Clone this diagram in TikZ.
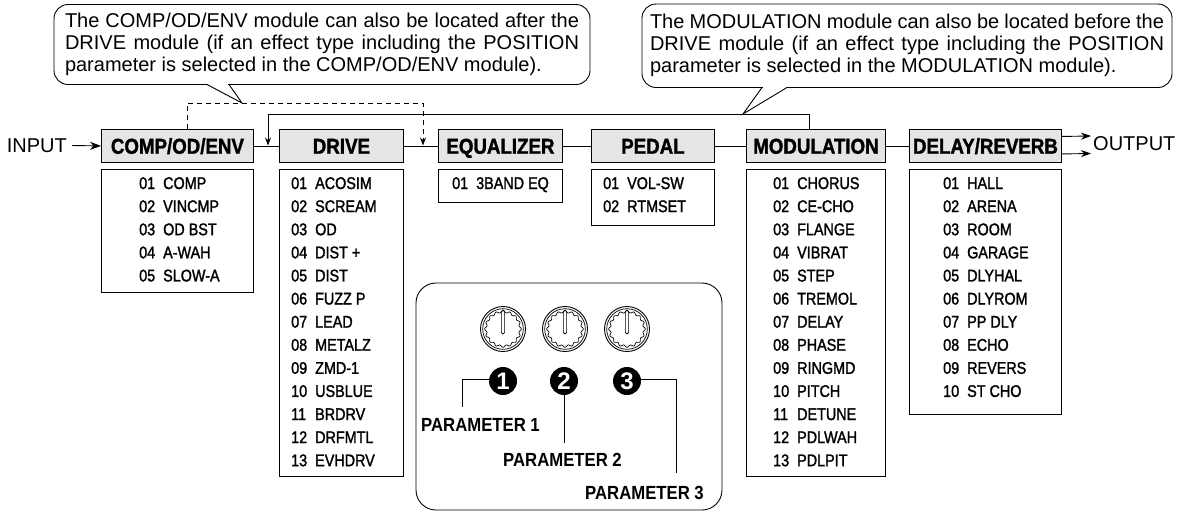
\documentclass[tikz,border=0pt]{standalone}
\usepackage{fontspec}
\setmainfont{Liberation Sans}
\newfontfamily\condfont[FakeStretch=0.85,FakeBold=1.5]{Liberation Sans}
\newfontfamily\hdrfont[FakeStretch=0.87,FakeBold=1.5]{Liberation Sans}
\newfontfamily\parfont[FakeStretch=0.88]{Liberation Sans}
\usetikzlibrary{arrows.meta}
\definecolor{hdrgray}{gray}{0.9}
\newcommand\listrows[3]{%
  \foreach \n/\t [count=\i] in {#3} {
    \node[rowtext, anchor=base west] (#2-\i) at (#1,{189+23.1*(\i-1)}) {\makebox[24pt][l]{\n}\t};
  }%
}
\tikzset{
  hdr/.style={draw, line width=0.9pt, fill=hdrgray, inner sep=0pt, anchor=north west,
    minimum height=33pt, text height=15.5pt, text depth=0pt,
    font=\hdrfont\bfseries\fontsize{21.5}{21.5}\selectfont},
  listbox/.style={draw, line width=0.9pt, inner sep=0pt, anchor=north west},
  rowtext/.style={inner sep=0pt, font=\condfont\fontsize{16.9}{18}\selectfont},
  callout/.style={draw, line width=0.9pt, rounded corners=14pt, inner sep=0pt, align=left,
    font=\fontsize{20}{22}\selectfont},
  conn/.style={line width=0.9pt},
  arr/.style={line width=0.9pt, -{Stealth[length=11pt,width=8pt]}},
  smallarr/.style={line width=0.9pt, -{Stealth[length=8pt,width=6pt]}},
  dash line/.style={line width=0.9pt, dash pattern=on 5pt off 4pt},
  badge/.style={circle, fill=black, text=white, inner sep=0pt, minimum size=28pt,
    font=\bfseries\fontsize{24}{24}\selectfont},
  paramlabel/.style={inner sep=0pt, anchor=base west, font=\parfont\bfseries\fontsize{19}{19}\selectfont},
  io/.style={inner sep=0pt, font=\fontsize{20}{20}\selectfont},
}
\begin{document}
\begin{tikzpicture}[x=1pt,y=-1pt]
\useasboundingbox (0,0) rectangle (1177,512);

% callouts
\node[callout, minimum width=536pt, minimum height=80pt] (c1) at (322,44.5)
 {\makebox[514pt][s]{The COMP/OD/ENV module can also be located after the}\\
  \makebox[514pt][s]{DRIVE module (if an effect type including the POSITION}\\
  parameter is selected in the COMP/OD/ENV module).};
\node[callout, minimum width=530pt, minimum height=83.5pt] (c2) at (907,45.75)
 {\makebox[514pt][s]{The MODULATION module can also be located before the}\\
  \makebox[514pt][s]{DRIVE module (if an effect type including the POSITION}\\
  parameter is selected in the MODULATION module).};

% header boxes
\node[hdr, minimum width=152pt] (hComp)  at (101,129) {COMP/OD/ENV};
\node[hdr, minimum width=124pt] (hDrive) at (279,129) {DRIVE};
\node[hdr, minimum width=124pt] (hEq)    at (438,129) {EQUALIZER};
\node[hdr, minimum width=123pt] (hPedal) at (591,129) {PEDAL};
\node[hdr, minimum width=139pt] (hMod)   at (746,129) {MODULATION};
\node[hdr, minimum width=152pt] (hDelay) at (909,129) {DELAY/REVERB};

% list boxes
\node[listbox, minimum width=152pt, minimum height=123pt] (lComp)  at (101,169) {};
\node[listbox, minimum width=124pt, minimum height=307pt] (lDrive) at (279,169) {};
\node[listbox, minimum width=124pt, minimum height=33pt]  (lEq)    at (438,169) {};
\node[listbox, minimum width=123pt, minimum height=56pt]  (lPedal) at (591,169) {};
\node[listbox, minimum width=139pt, minimum height=307pt] (lMod)   at (746,169) {};
\node[listbox, minimum width=152pt, minimum height=245pt] (lDelay) at (909,169) {};

\listrows{139}{comp}{01/COMP,02/VINCMP,03/OD BST,04/A-WAH,05/SLOW-A}
\listrows{291}{drive}{01/ACOSIM,02/SCREAM,03/OD,04/DIST +,05/DIST,06/FUZZ P,07/LEAD,08/METALZ,09/ZMD-1,10/USBLUE,11/BRDRV,12/DRFMTL,13/EVHDRV}
\listrows{452}{eq}{01/3BAND EQ}
\listrows{603}{pedal}{01/VOL-SW,02/RTMSET}
\listrows{773}{mod}{01/CHORUS,02/CE-CHO,03/FLANGE,04/VIBRAT,05/STEP,06/TREMOL,07/DELAY,08/PHASE,09/RINGMD,10/PITCH,11/DETUNE,12/PDLWAH,13/PDLPIT}
\listrows{943}{delay}{01/HALL,02/ARENA,03/ROOM,04/GARAGE,05/DLYHAL,06/DLYROM,07/PP DLY,08/ECHO,09/REVERS,10/ST CHO}

% input / output
\node[io, anchor=east] (inp) at (67,145.5) {INPUT};
\node[io, anchor=west] (outp) at (1093,143.5) {OUTPUT};
\draw[arr] ([xshift=5pt]inp.east) -- (hComp.west);
\coordinate (o1) at (1091,136);
\coordinate (o2) at (1091,153.5);
\draw[line width=0.9pt, -{Stealth[length=10pt,width=7pt]}] ([yshift=9.5pt]hDelay.east) -- (o1);
\draw[line width=0.9pt, -{Stealth[length=10pt,width=7pt]}] ([yshift=-8pt]hDelay.east) -- (o2);

% chain connectors
\draw[conn] (hComp.east) -- (hDrive.west);
\draw[conn] (hDrive.east) -- (hEq.west);
\draw[conn] (hEq.east) -- (hPedal.west);
\draw[conn] (hPedal.east) -- (hMod.west);
\draw[conn] (hMod.east) -- (hDelay.west);

% loop and dashed routes
\coordinate (loopEnd) at (268,145.5);
\coordinate (dashEnd) at (423,145.5);
\draw[smallarr] ([xshift=-6.5pt]hMod.north) -- ++(0,-15) -| (loopEnd);
\draw[dash line] ([xshift=10pt]hComp.north) -- ++(0,-26) -| ([yshift=6pt]dashEnd);
\draw[smallarr] ([yshift=6pt]dashEnd) -- (dashEnd);

% callout pointers
\coordinate (c1a) at (207,84.5);
\coordinate (c1b) at (229,84.5);
\coordinate (c1tip) at (242,103);
\fill[white] (208,83.3) rectangle (228,85.8);
\draw[conn] (c1a) -- (c1tip) -- (c1b);
\coordinate (c2a) at (762,87.5);
\coordinate (c2b) at (787,87.5);
\coordinate (c2tip) at (743,114);
\fill[white] (763,86.3) rectangle (786,88.8);
\draw[conn] (c2a) -- (c2tip) -- (c2b);

% parameter box
\node[draw, line width=0.9pt, rounded corners=20pt, minimum width=306pt, minimum height=227pt, inner sep=0pt] (pbox) at (569,396.5) {};

% knobs
\foreach \cx in {503,565,627} {
  \draw[line width=0.9pt] (\cx,329) circle (22.5);
  \draw[line width=0.7pt] (\cx,329) circle (20.3);
  \draw[line width=0.7pt] plot[domain=0:360,samples=161,smooth]
     ({\cx+(17.3+1*cos(16*\x))*cos(\x)},{329+(17.3+1*cos(16*\x))*sin(\x)});
  \draw[line width=0.6pt, rounded corners=1.5pt] (\cx-1.6,310) rectangle (\cx+1.6,334);
}

% badges
\node[badge] (n1) at (503,381) {1};
\node[badge] (n2) at (564,381) {2};
\node[badge] (n3) at (627,381) {3};

% parameter labels
\node[paramlabel] (par1) at (421,431) {PARAMETER 1};
\node[paramlabel] (par2) at (503,466) {PARAMETER 2};
\node[paramlabel] (par3) at (585,499) {PARAMETER 3};
\coordinate (p1c) at (462,407);
\coordinate (p2c) at (564,443);
\coordinate (p3c) at (676,473);
\draw[conn] (n1.172) -| (p1c);
\draw[conn] (n2.south) -- (p2c);
\draw[conn] (n3.8) -| (p3c);
\end{tikzpicture}
\end{document}
